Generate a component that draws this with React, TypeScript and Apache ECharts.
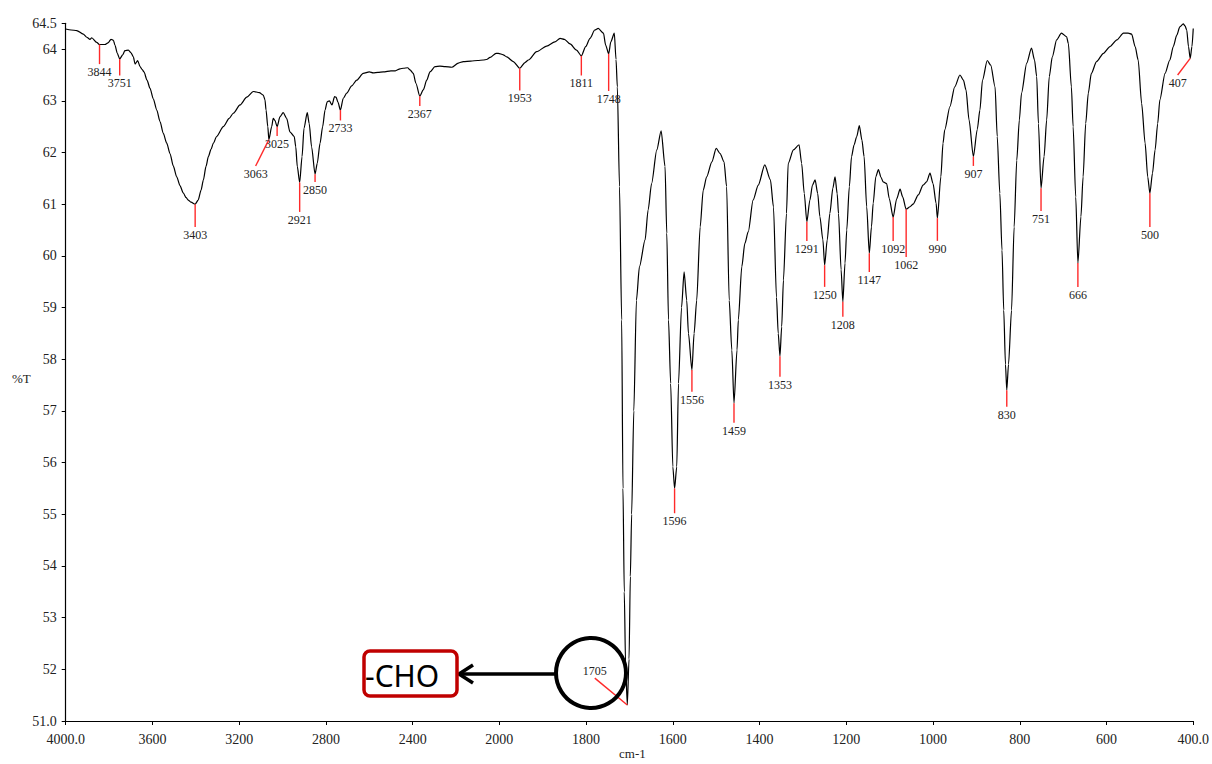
import React, { useEffect, useRef } from "react";
import * as echarts from "echarts";

// IR spectrum: [wavenumber (cm-1), %T]
const spectrum: [number, number][] = [
  [4000, 64.39], [3975, 64.37], [3949, 64.36], [3919, 64.29], [3903, 64.23], [3888, 64.19],
  [3880, 64.22], [3857, 64.13], [3844, 64.09], [3819, 64.09], [3805, 64.12], [3791, 64.19],
  [3780, 64.17], [3773, 64.08], [3762, 63.92], [3751, 63.81], [3737, 63.89], [3727, 63.97],
  [3711, 63.98], [3699, 63.93], [3688, 63.85], [3680, 63.71], [3668, 63.78], [3657, 63.66],
  [3648, 63.61], [3639, 63.56], [3625, 63.4], [3611, 63.24], [3596, 63.04], [3580, 62.82],
  [3565, 62.6], [3550, 62.37], [3534, 62.18], [3519, 61.98], [3504, 61.74], [3488, 61.53],
  [3473, 61.36], [3458, 61.22], [3445, 61.13], [3435, 61.08], [3422, 61.04], [3403, 61.0],
  [3389, 61.08], [3376, 61.27], [3365, 61.47], [3353, 61.73], [3342, 61.92], [3330, 62.06],
  [3319, 62.18], [3304, 62.31], [3273, 62.5], [3246, 62.66], [3227, 62.76], [3196, 62.92],
  [3165, 63.07], [3135, 63.18], [3107, 63.16], [3089, 63.11], [3081, 63.02], [3076, 62.82],
  [3068, 62.5], [3063, 62.25], [3050, 62.5], [3043, 62.66], [3035, 62.62], [3025, 62.5],
  [3012, 62.69], [2997, 62.77], [2981, 62.66], [2966, 62.4], [2946, 62.31], [2939, 62.11],
  [2932, 61.73], [2921, 61.42], [2910, 61.92], [2901, 62.47], [2886, 62.77], [2877, 62.56],
  [2866, 62.11], [2850, 61.58], [2840, 61.79], [2827, 62.18], [2815, 62.5], [2804, 62.82],
  [2794, 62.98], [2784, 63.0], [2772, 62.92], [2760, 63.08], [2753, 63.07], [2745, 62.98],
  [2733, 62.82], [2720, 63.05], [2704, 63.15], [2681, 63.29], [2658, 63.4], [2628, 63.53],
  [2600, 63.56], [2582, 63.54], [2560, 63.55], [2535, 63.56], [2500, 63.58], [2480, 63.58],
  [2458, 63.62], [2443, 63.63], [2423, 63.64], [2412, 63.6], [2397, 63.53], [2385, 63.34],
  [2367, 63.09], [2351, 63.21], [2335, 63.4], [2320, 63.56], [2297, 63.66], [2274, 63.67],
  [2250, 63.66], [2220, 63.65], [2189, 63.73], [2166, 63.76], [2132, 63.77], [2100, 63.78],
  [2074, 63.79], [2059, 63.8], [2043, 63.84], [2015, 63.92], [2005, 63.92], [1991, 63.89],
  [1983, 63.85], [1968, 63.76], [1953, 63.63], [1941, 63.74], [1933, 63.79], [1914, 63.95],
  [1891, 64.06], [1872, 64.14], [1860, 64.21], [1850, 64.19], [1837, 64.1], [1822, 63.98],
  [1811, 63.87], [1801, 64.05], [1791, 64.21], [1780, 64.37], [1772, 64.4], [1760, 64.31],
  [1755, 64.08], [1748, 63.91], [1743, 64.14], [1735, 64.31], [1731, 63.8], [1728, 63.27],
  [1723, 61.34], [1718, 58.76], [1715, 55.5], [1712, 53.5], [1709, 52.1], [1705, 51.31],
  [1701, 52.2], [1698, 53.8], [1695, 55.0], [1690, 57.0], [1684, 59.14], [1677, 59.79],
  [1664, 60.31], [1657, 60.89], [1649, 61.4], [1637, 62.05], [1627, 62.42], [1618, 61.73],
  [1614, 60.44], [1610, 58.76], [1605, 57.53], [1600, 55.92], [1596, 55.5], [1591, 55.92],
  [1587, 57.53], [1580, 59.0], [1574, 59.69], [1568, 59.14], [1564, 58.5], [1556, 57.79],
  [1551, 58.5], [1545, 59.14], [1537, 60.56], [1530, 61.27], [1522, 61.53], [1510, 61.82],
  [1500, 62.08], [1491, 61.98], [1482, 61.82], [1476, 61.34], [1470, 59.14], [1464, 58.18],
  [1459, 57.15], [1452, 58.18], [1449, 58.76], [1441, 59.79], [1434, 60.24], [1426, 60.47],
  [1415, 61.08], [1403, 61.37], [1388, 61.76], [1375, 61.47], [1368, 60.95], [1361, 59.2],
  [1357, 58.5], [1353, 58.06], [1349, 58.63], [1345, 59.53], [1338, 60.82], [1334, 61.79],
  [1322, 62.05], [1309, 62.15], [1303, 61.79], [1297, 61.21], [1291, 60.66], [1284, 61.08],
  [1278, 61.37], [1272, 61.47], [1266, 61.21], [1261, 60.76], [1254, 60.31], [1250, 59.82],
  [1244, 60.31], [1238, 60.82], [1231, 61.31], [1226, 61.53], [1221, 61.2], [1218, 60.82],
  [1212, 59.73], [1208, 59.11], [1203, 59.86], [1199, 60.5], [1193, 61.34], [1188, 61.92],
  [1182, 62.15], [1176, 62.31], [1170, 62.52], [1164, 62.24], [1159, 61.92], [1153, 60.95],
  [1147, 60.05], [1142, 60.56], [1138, 61.02], [1132, 61.53], [1126, 61.67], [1120, 61.52],
  [1115, 61.43], [1107, 61.4], [1101, 61.11], [1092, 60.75], [1084, 61.1], [1076, 61.29],
  [1070, 61.14], [1062, 60.9], [1053, 60.95], [1046, 61.0], [1034, 61.18], [1023, 61.37],
  [1015, 61.43], [1007, 61.6], [1000, 61.4], [993, 61.02], [990, 60.73], [982, 61.53],
  [977, 62.18], [973, 62.44], [961, 62.89], [950, 63.27], [938, 63.5], [930, 63.4],
  [924, 63.21], [917, 62.63], [907, 61.92], [898, 62.45], [892, 62.82], [886, 63.4],
  [875, 63.78], [867, 63.69], [857, 63.27], [852, 62.31], [846, 61.21], [841, 60.11],
  [837, 58.95], [833, 57.9], [830, 57.4], [826, 57.9], [819, 58.95], [813, 60.56],
  [807, 61.85], [801, 62.63], [796, 63.15], [784, 63.73], [773, 64.02], [766, 63.79],
  [761, 63.47], [757, 62.56], [751, 61.31], [744, 61.92], [738, 62.63], [732, 63.47],
  [725, 63.85], [715, 64.18], [704, 64.31], [692, 64.24], [688, 64.11], [681, 63.27],
  [677, 62.5], [671, 61.14], [666, 59.86], [659, 60.76], [654, 61.53], [648, 62.56],
  [642, 63.15], [635, 63.53], [623, 63.76], [607, 63.92], [592, 64.05], [576, 64.18],
  [561, 64.31], [550, 64.31], [542, 64.29], [534, 64.05], [527, 63.79], [519, 62.95],
  [511, 62.18], [505, 61.53], [500, 61.21], [494, 61.6], [488, 62.05], [482, 62.56],
  [477, 63.02], [465, 63.53], [454, 63.79], [446, 64.05], [438, 64.27], [431, 64.43],
  [423, 64.49], [419, 64.45], [415, 64.37], [411, 64.05], [407, 63.82], [403, 64.05],
  [400, 64.4],
];

// Picked peaks, with the end of each red leader line (wavenumber, %T)
const peakWn = [3844, 3751, 3403, 3063, 3025, 2921, 2850, 2733, 2367, 1953, 1811, 1748, 1705, 1596, 1556,
  1459, 1353, 1291, 1250, 1208, 1147, 1092, 1062, 990, 907, 830, 751, 666, 500, 407];
const leaderEndWn = [3844, 3751, 3403, 3124, 3025, 2921, 2850, 2733, 2367, 1953, 1811, 1748, 1780, 1596, 1556,
  1459, 1353, 1291, 1250, 1208, 1147, 1092, 1062, 990, 907, 830, 751, 666, 500, 436];
const leaderEndT = [63.71, 63.49, 60.56, 61.74, 62.32, 60.85, 61.43, 62.62, 62.9, 63.2, 63.49, 63.19, 51.83, 55.02, 57.37,
  56.77, 57.66, 60.29, 59.4, 58.82, 59.69, 60.29, 59.98, 60.29, 61.74, 57.08, 60.87, 59.4, 60.56, 63.5];
const labelAbovePeaks = [1705];

const xTickStep = 400;
const yMin = 51;
const yMax = 64.5;

// The wavenumber scale is doubled below 2000 cm-1: map to a linear axis coordinate and back.
const toAxis = (w: number) => (w >= 2000 ? 4000 - w : 2000 + (2000 - w) * 2);
const fromAxis = (t: number) => (t <= 2000 ? 4000 - t : 2000 - (t - 2000) / 2);
const axisMax = toAxis(400);

const tAt = (w: number) => {
  const p = spectrum.find((d) => d[0] === w);
  return p ? p[1] : 0;
};

const SERIF = "Liberation Serif, serif";
const SANS = "Noto Sans, sans-serif";

export default function App() {
  const ref = useRef<HTMLDivElement>(null);

  useEffect(() => {
    if (!ref.current) return;
    const chart = echarts.init(ref.current, undefined, { renderer: "svg" });

    chart.setOption({
      animation: false,
      backgroundColor: "#ffffff",
      grid: { left: 65.7, right: 18.7, top: 23.3, bottom: 43, containLabel: false },
      xAxis: {
        type: "value",
        min: 0,
        max: axisMax,
        interval: xTickStep,
        axisLine: { lineStyle: { color: "#000", width: 1.2 } },
        axisTick: { show: true, length: 4, lineStyle: { color: "#000" } },
        splitLine: { show: false },
        axisLabel: {
          margin: 11,
          color: "#222",
          fontFamily: SERIF,
          fontSize: 14,
          formatter: (t: number) => {
            if (t === 0) return "4000.0";
            if (t === axisMax) return "400.0";
            return String(Math.round(fromAxis(t)));
          },
        },
      },
      yAxis: {
        type: "value",
        min: yMin,
        max: yMax,
        interval: 1,
        axisLine: { show: true, lineStyle: { color: "#000", width: 1.2 } },
        axisTick: { show: true, length: 4, lineStyle: { color: "#000" } },
        splitLine: { show: false },
        axisLabel: {
          margin: 9,
          color: "#222",
          fontFamily: SERIF,
          fontSize: 14,
          formatter: (v: number) => {
            if (v === yMax) return "64.5";
            if (v === yMin) return "51.0";
            return String(v);
          },
        },
      },
      series: [
        {
          type: "line",
          data: spectrum.map(([w, t]) => [toAxis(w), t]),
          showSymbol: false,
          smooth: 0.25,
          smoothMonotone: "x",
          lineStyle: { color: "#000", width: 1.2 },
          z: 3,
        },
        {
          type: "custom",
          data: peakWn.map((w) => [toAxis(w), tAt(w)]),
          z: 4,
          renderItem: (params: any, api: any) => {
            const i = params.dataIndex;
            const wn = peakWn[i];
            const start = api.coord([toAxis(wn), tAt(wn)]);
            const end = api.coord([toAxis(leaderEndWn[i]), leaderEndT[i]]);
            const above = labelAbovePeaks.includes(wn);
            return {
              type: "group",
              children: [
                {
                  type: "line",
                  shape: { x1: start[0], y1: start[1], x2: end[0], y2: end[1] },
                  style: { stroke: "#ff2a2a", lineWidth: 1.4 },
                },
                {
                  type: "text",
                  style: {
                    text: String(wn),
                    x: end[0],
                    y: above ? end[1] - 1 : end[1] + 2,
                    align: "center",
                    textAlign: "center",
                    verticalAlign: above ? "bottom" : "top",
                    textVerticalAlign: above ? "bottom" : "top",
                    font: `12px ${SERIF}`,
                    fill: "#222",
                  },
                },
              ],
            };
          },
        },
      ],
      graphic: [
        {
          type: "text",
          left: 12,
          top: 372,
          style: { text: "%T", font: `13px ${SERIF}`, fill: "#222" },
        },
        {
          type: "text",
          left: 619,
          top: 747,
          style: { text: "cm-1", font: `13px ${SERIF}`, fill: "#222" },
        },
        {
          type: "circle",
          shape: { cx: 591, cy: 673, r: 35 },
          style: { fill: "transparent", stroke: "#000", lineWidth: 4 },
          z: 10,
        },
        {
          type: "line",
          shape: { x1: 556, y1: 674, x2: 460, y2: 674 },
          style: { stroke: "#000", lineWidth: 3.5 },
          z: 10,
        },
        {
          type: "polyline",
          shape: { points: [[473, 665], [459, 674], [473, 683]] },
          style: { stroke: "#000", lineWidth: 3.5, fill: "transparent" },
          z: 10,
        },
        {
          type: "rect",
          shape: { x: 364, y: 651, width: 93, height: 45, r: 6 },
          style: { fill: "#fff", stroke: "#c00000", lineWidth: 3.5 },
          z: 10,
        },
        {
          type: "text",
          x: 365,
          y: 675,
          style: {
            text: "-CHO",
            font: `30px ${SANS}`,
            fill: "#000",
            verticalAlign: "middle",
            textVerticalAlign: "middle",
          },
          z: 11,
        },
      ],
    });

    return () => chart.dispose();
  }, []);

  return (
    <div
      ref={ref}
      style={{ position: "fixed", left: 0, top: 0, width: 1212, height: 764, background: "#fff" }}
    />
  );
}
